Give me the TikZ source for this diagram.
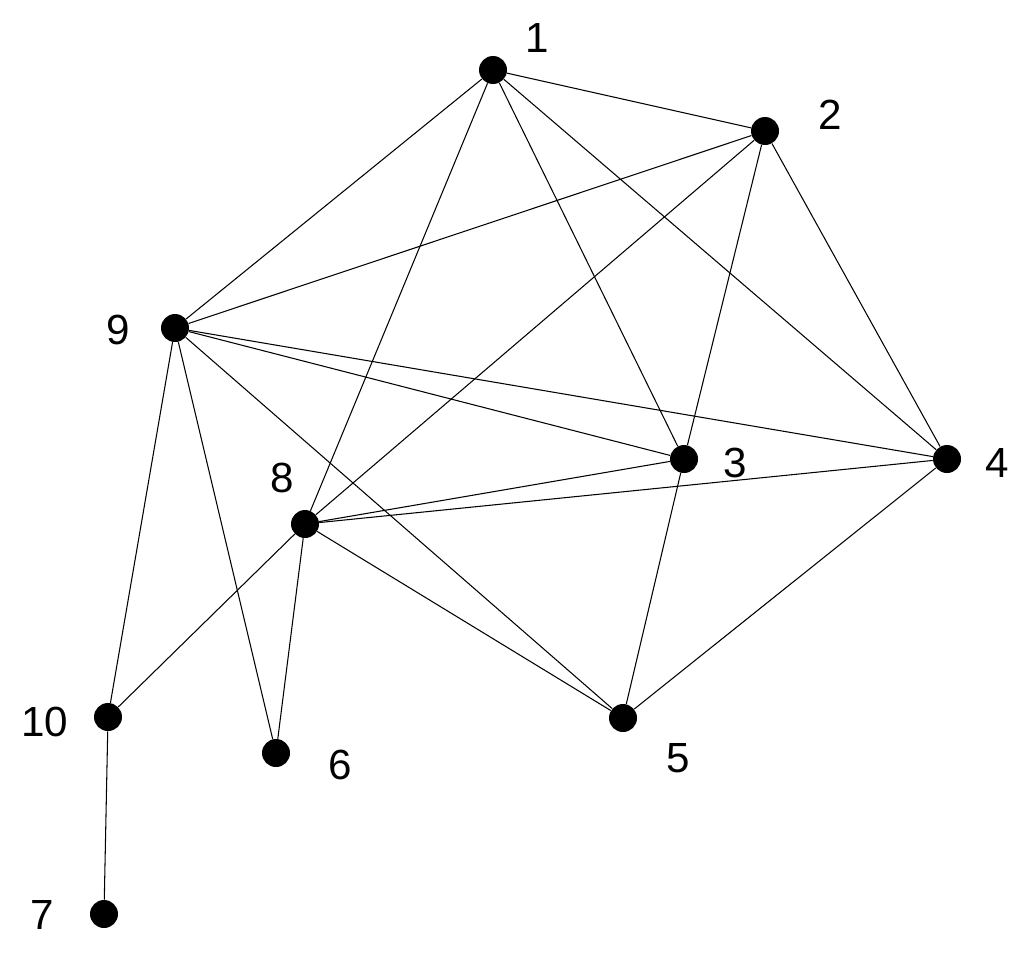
\documentclass[tikz,border=0pt]{standalone}
\usepackage{fontspec}
\setmainfont{Liberation Sans}
\begin{document}
\begin{tikzpicture}[x=0.02cm,y=-0.02cm,
  dot/.style={circle,fill=black,inner sep=0pt,minimum size=0.56cm},
  lbl/.style={font=\fontsize{24}{28}\selectfont},
  edge/.style={line width=0.6pt}]
\useasboundingbox (0,0) rectangle (1024,967);
\node[dot] (n1) at (493,70) {};
\node[dot] (n2) at (765,131) {};
\node[dot] (n9) at (175,328) {};
\node[dot] (n3) at (684,459) {};
\node[dot] (n4) at (947,459) {};
\node[dot] (n8) at (305,524) {};
\node[dot] (n10) at (108,717) {};
\node[dot] (n6) at (276,753) {};
\node[dot] (n5) at (623,718) {};
\node[dot] (n7) at (104,914) {};
\node[lbl] (l1) at (537,38) {1};
\node[lbl] (l2) at (830,115) {2};
\node[lbl] (l9) at (118,330) {9};
\node[lbl] (l3) at (735,463) {3};
\node[lbl] (l4) at (997,463) {4};
\node[lbl] (l8) at (282,478) {8};
\node[lbl] (l10) at (45,722) {10};
\node[lbl] (l6) at (340,765) {6};
\node[lbl] (l5) at (678,758) {5};
\node[lbl] (l7) at (42,915) {7};
\foreach \a/\b in {n1/n2,n1/n9,n1/n8,n1/n3,n1/n4,n2/n9,n2/n8,n2/n3,n2/n4,n9/n3,n9/n4,n9/n5,n9/n10,n9/n6,n8/n3,n8/n4,n8/n5,n8/n10,n8/n6,n3/n5,n4/n5,n10/n7}
  \draw[edge] (\a) -- (\b);
\end{tikzpicture}
\end{document}
